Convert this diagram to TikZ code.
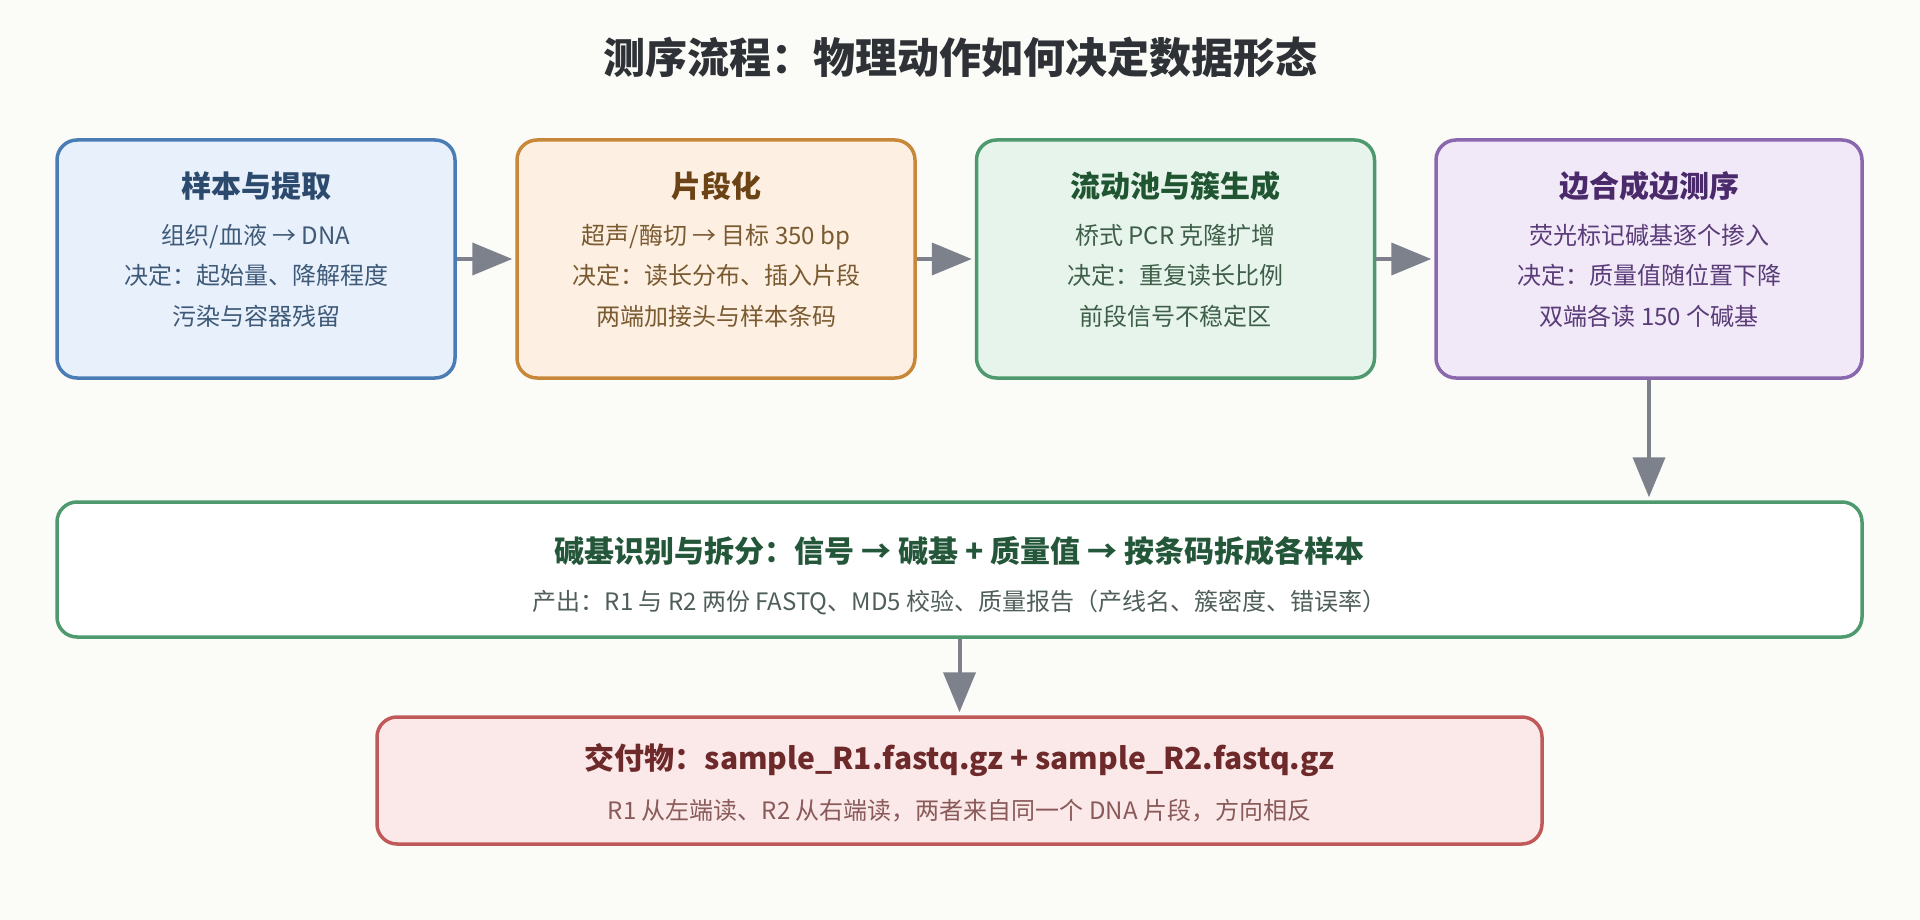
\documentclass[tikz,border=0pt]{standalone}
\usepackage{fontspec}
\setmainfont{Noto Sans CJK SC}
\usetikzlibrary{arrows.meta, positioning}
\definecolor{bgcol}{HTML}{FBFBF7}
\definecolor{arrowgray}{HTML}{7D818B}
\definecolor{headcol}{HTML}{2E3236}
\definecolor{samplefill}{HTML}{E8F0FB}
\definecolor{sampleline}{HTML}{4A7DB5}
\definecolor{sampletitle}{HTML}{2B4A6E}
\definecolor{sampletext}{HTML}{3F5A78}
\definecolor{fragfill}{HTML}{FDF0E3}
\definecolor{fragline}{HTML}{C8883A}
\definecolor{fragtitle}{HTML}{6B4315}
\definecolor{fragtext}{HTML}{7A5A30}
\definecolor{poolfill}{HTML}{E7F4EC}
\definecolor{poolline}{HTML}{4E9A6E}
\definecolor{pooltitle}{HTML}{1F5530}
\definecolor{pooltext}{HTML}{3E5E48}
\definecolor{seqfill}{HTML}{F1E8F8}
\definecolor{seqline}{HTML}{8A68AD}
\definecolor{seqtitle}{HTML}{4A2A6B}
\definecolor{seqtext}{HTML}{5A3C78}
\definecolor{calltitle}{HTML}{24573A}
\definecolor{calltext}{HTML}{4F5F58}
\definecolor{delivfill}{HTML}{FBE8E8}
\definecolor{delivline}{HTML}{C05A5A}
\definecolor{delivtitle}{HTML}{6E2A2A}
\definecolor{delivtext}{HTML}{8A5A5A}

\begin{document}
\begin{tikzpicture}[x=1pt, y=-1pt,
    stagebox/.style={rectangle, rounded corners=20pt, line width=3.5pt,
                     minimum width=398pt, minimum height=238pt},
    stagetitle/.style={font=\bfseries\fontsize{30}{36}\selectfont},
    stagebody/.style={font=\fontsize{24}{40.5}\selectfont, align=center},
    flow/.style={-{Triangle[length=40pt, width=32pt]}, line width=4pt,
                 draw=arrowgray, shorten >=3pt}]

    \fill[bgcol] (0,0) rectangle (1920,920);

    % Title
    \node[font=\bfseries\fontsize{42}{50}\selectfont, text=headcol] (head) at (960,57.5)
        {测序流程：物理动作如何决定数据形态};

    % Stages
    \node[stagebox, draw=sampleline, fill=samplefill] (sample) at (256,259) {};
    \node[stagetitle, text=sampletitle] (sampletop) at (256,186) {样本与提取};
    \node[stagebody, text=sampletext] (samplebody) at (256,275.5)
        {组织/血液 → DNA\\决定：起始量、降解程度\\污染与容器残留};

    \node[stagebox, draw=fragline, fill=fragfill] (frag) at (716,259) {};
    \node[stagetitle, text=fragtitle] (fragtop) at (716,186) {片段化};
    \node[stagebody, text=fragtext] (fragbody) at (716,275.5)
        {超声/酶切 → 目标 350 bp\\决定：读长分布、插入片段\\两端加接头与样本条码};

    \node[stagebox, draw=poolline, fill=poolfill] (pool) at (1175.5,259) {};
    \node[stagetitle, text=pooltitle] (pooltop) at (1175.5,186) {流动池与簇生成};
    \node[stagebody, text=pooltext] (poolbody) at (1175.5,275.5)
        {桥式 PCR 克隆扩增\\决定：重复读长比例\\前段信号不稳定区};

    \node[stagebox, draw=seqline, fill=seqfill, minimum width=426pt] (seq) at (1649,259) {};
    \node[stagetitle, text=seqtitle] (seqtop) at (1649,186) {边合成边测序};
    \node[stagebody, text=seqtext] (seqbody) at (1649,275.5)
        {荧光标记碱基逐个掺入\\决定：质量值随位置下降\\双端各读 150 个碱基};

    % Base calling
    \node[stagebox, draw=poolline, fill=white, minimum width=1805pt,
          minimum height=135pt] (call) at (959.5,569.5) {};
    \node[stagetitle, text=calltitle] (calltop) at (959.5,551)
        {碱基识别与拆分：信号 → 碱基 + 质量值 → 按条码拆成各样本};
    \node[stagebody, text=calltext] (callbody) at (959.5,602.5)
        {产出：R1 与 R2 两份 FASTQ、MD5 校验、质量报告（产线名、簇密度、错误率）};

    % Delivery
    \node[stagebox, draw=delivline, fill=delivfill, minimum width=1165pt,
          minimum height=127pt] (deliv) at (959.5,780.5) {};
    \node[stagetitle, text=delivtitle] (delivtop) at (959.5,760)
        {交付物：sample\_R1.fastq.gz + sample\_R2.fastq.gz};
    \node[stagebody, text=delivtext] (delivbody) at (959.5,811)
        {R1 从左端读、R2 从右端读，两者来自同一个 DNA 片段，方向相反};

    % Connections
    \draw[flow] (sample) -- (frag);
    \draw[flow] (frag) -- (pool);
    \draw[flow] (pool) -- (seq);
    \draw[flow] (seq) -- (seq |- call.north);
    \draw[flow] (call) -- (deliv);
\end{tikzpicture}
\end{document}
